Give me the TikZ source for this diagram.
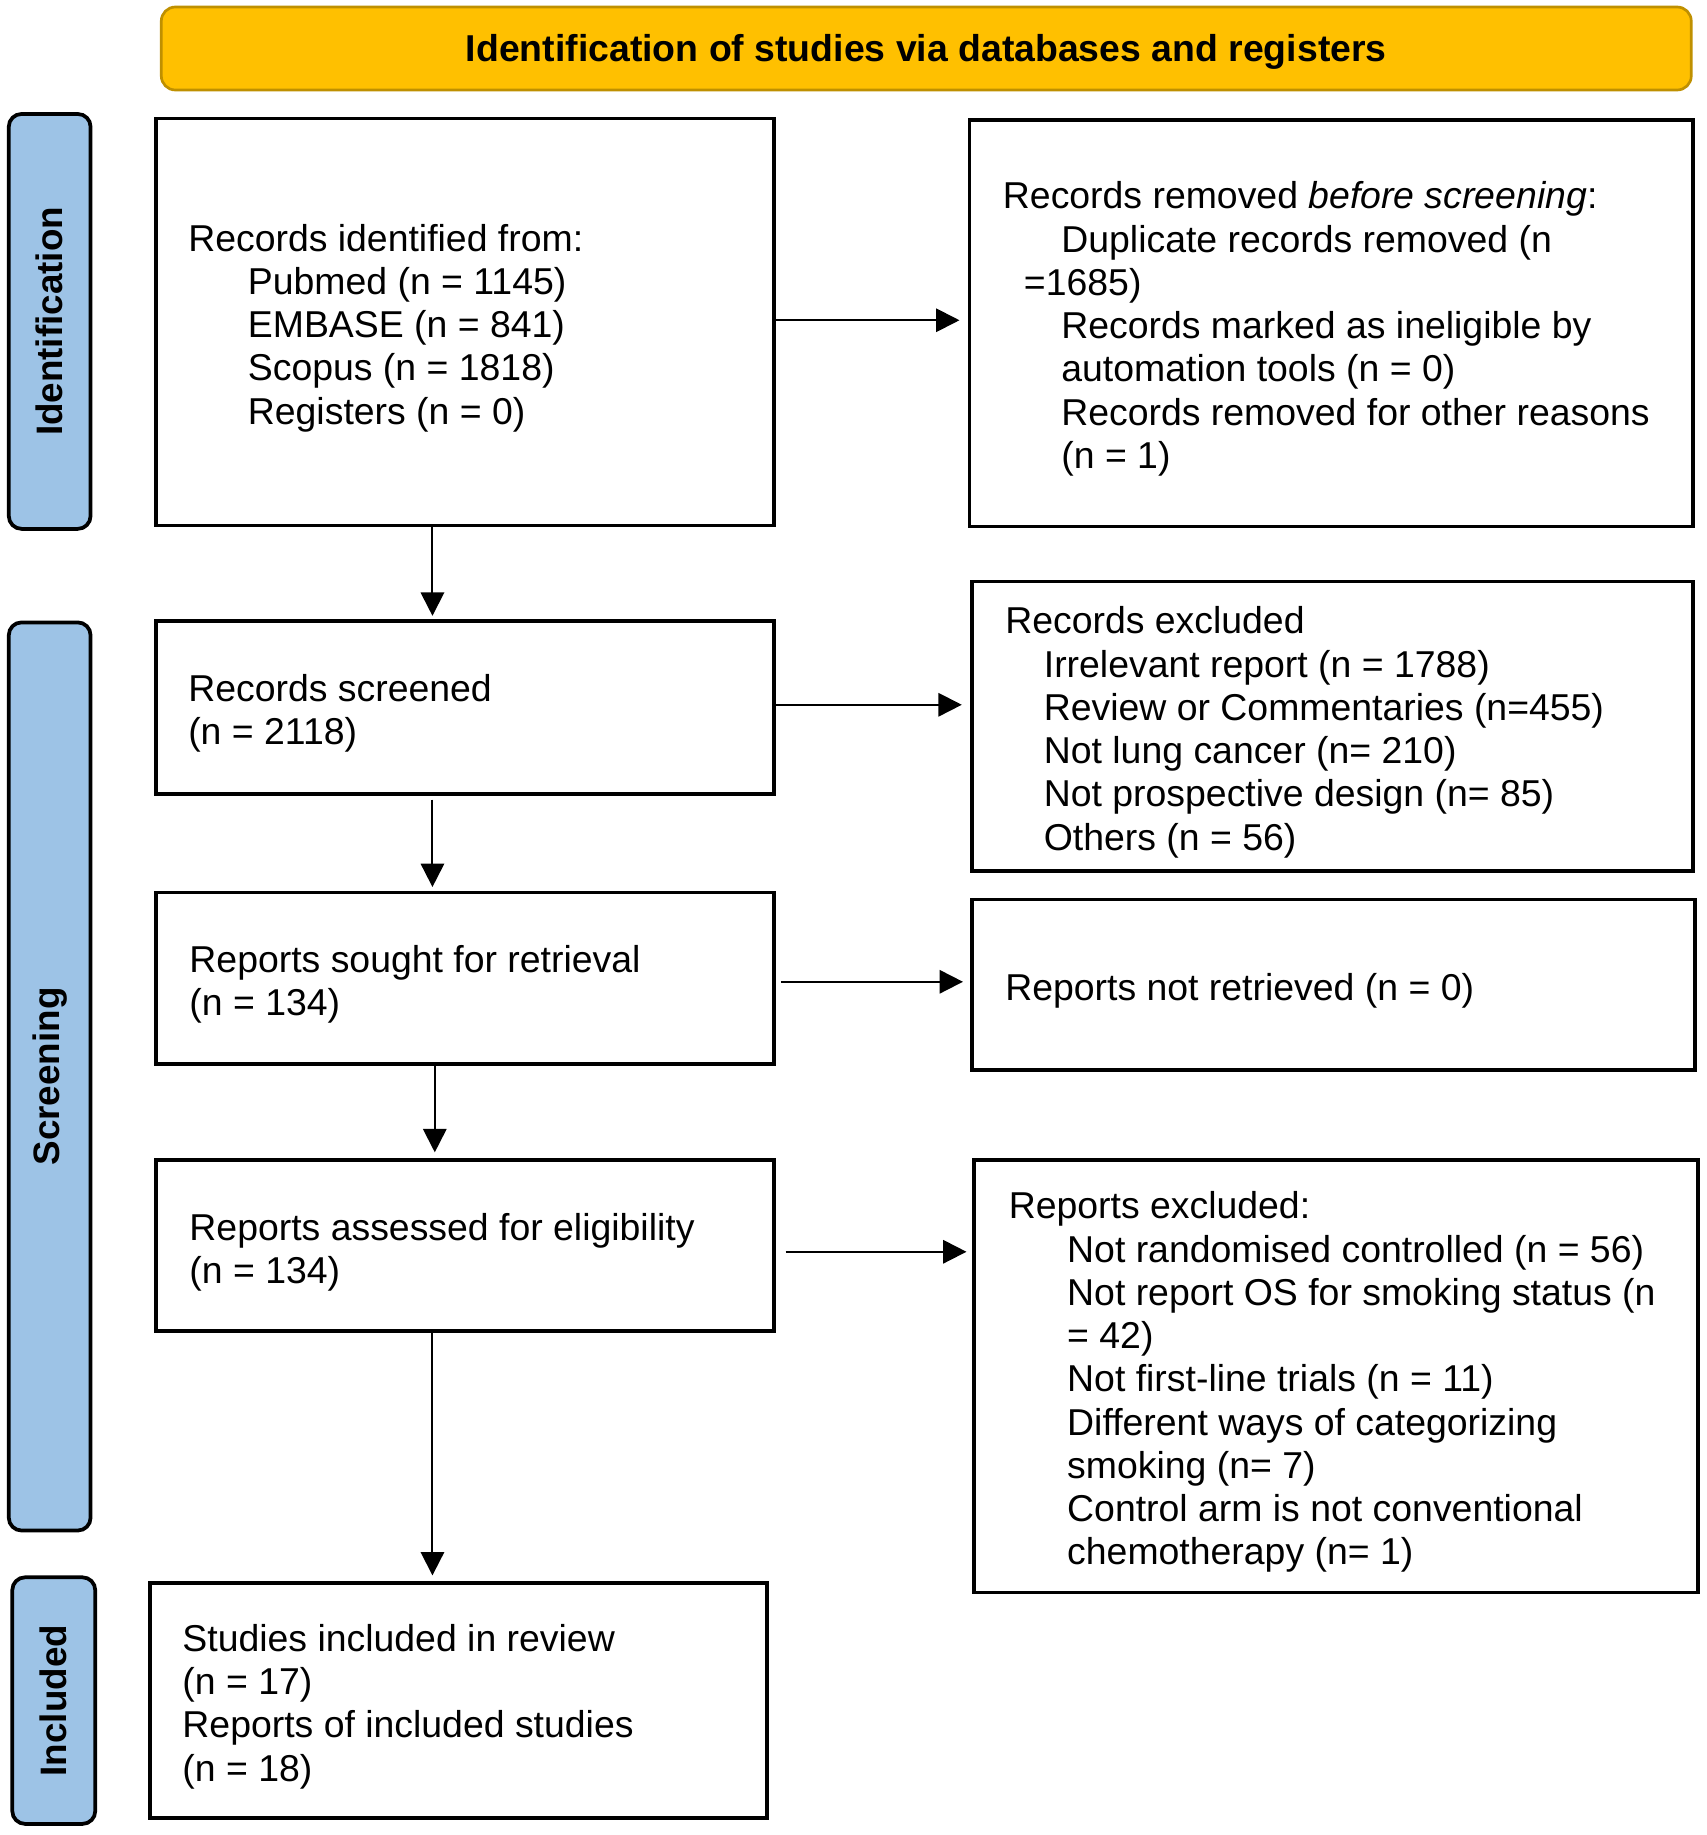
\documentclass[tikz,border=0pt]{standalone}
\usepackage{fontspec}
\setmainfont{Liberation Sans}
\usetikzlibrary{arrows.meta}
\definecolor{hdrfill}{HTML}{FFC000}
\definecolor{hdrdraw}{HTML}{BF9000}
\definecolor{sidefill}{HTML}{9DC3E6}
\begin{document}
\begin{tikzpicture}[x=1pt,y=-1pt,
  box/.style={draw, line width=3.2pt, rectangle, inner sep=0pt},
  txt/.style={anchor=west, align=left, inner sep=0pt, font=\fontsize{32}{37}\selectfont},
  side/.style={draw, line width=3.2pt, fill=sidefill, rounded corners=11pt, rotate=90, inner sep=0pt, font=\fontsize{31.5}{37}\selectfont\bfseries},
  arr/.style={line width=1.7pt, -{Triangle[length=20pt,width=20pt]}},
]
\useasboundingbox (0,0) rectangle (1460,1570);

% header
\node[draw=hdrdraw, fill=hdrfill, line width=2.3pt, rounded corners=12pt,
      minimum width=1309pt, minimum height=71pt,
      font=\fontsize{32}{37}\selectfont\bfseries] (hdr) at (792.5,41.5) {};
\node[font=\fontsize{32}{37}\selectfont\bfseries, inner sep=0pt] (hdrt) at ([yshift=-3pt]hdr.center)
      {Identification of studies via databases and registers};

% side labels
\node[side, minimum width=355pt, minimum height=70pt] (sid) at (42.5,275) {Identification};
\node[side, minimum width=777pt, minimum height=70pt] (ssc) at (42.5,921) {Screening};
\node[side, minimum width=211pt, minimum height=71pt] (sin) at (46,1455) {Included};

% boxes
\node[box, minimum width=529pt, minimum height=348pt] (b1) at (398,275.5) {};
\node[box, minimum width=619pt, minimum height=348pt] (b2) at (1139,276.5) {};
\node[box, minimum width=529pt, minimum height=148pt] (b3) at (398,605.5) {};
\node[box, minimum width=617pt, minimum height=248pt] (b4) at (1140,621.5) {};
\node[box, minimum width=529pt, minimum height=147pt] (b5) at (398,837) {};
\node[box, minimum width=619pt, minimum height=146pt] (b6) at (1141,842.5) {};
\node[box, minimum width=529pt, minimum height=146pt] (b7) at (398,1065.5) {};
\node[box, minimum width=619pt, minimum height=370pt] (b8) at (1143,1177.5) {};
\node[box, minimum width=528pt, minimum height=201pt] (b9) at (392.5,1455) {};

% texts
\node[txt] (t1) at ([xshift=29pt,yshift=-5pt]b1.west) {Records identified from:\\
\hspace*{51pt}Pubmed (n = 1145)\\
\hspace*{51pt}EMBASE (n = 841)\\
\hspace*{51pt}Scopus (n = 1818)\\
\hspace*{51pt}Registers (n = 0)};

\node[txt] (t2) at ([xshift=30pt,yshift=-5pt]b2.west) {Records removed \textit{before screening}:\\
\hspace*{50pt}Duplicate records removed (n\\
\hspace*{18pt}=1685)\\
\hspace*{50pt}Records marked as ineligible by\\
\hspace*{50pt}automation tools (n = 0)\\
\hspace*{50pt}Records removed for other reasons\\
\hspace*{50pt}(n = 1)};

\node[txt] (t3) at ([xshift=29pt,yshift=-5pt]b3.west) {Records screened\\(n = 2118)};

\node[txt] (t4) at ([xshift=30pt,yshift=-5pt]b4.west) {Records excluded\\
\hspace*{33pt}Irrelevant report (n = 1788)\\
\hspace*{33pt}Review or Commentaries (n=455)\\
\hspace*{33pt}Not lung cancer (n= 210)\\
\hspace*{33pt}Not prospective design (n= 85)\\
\hspace*{33pt}Others (n = 56)};

\node[txt] (t5) at ([xshift=30pt,yshift=-5pt]b5.west) {Reports sought for retrieval\\(n = 134)};

\node[txt] (t6) at ([xshift=30pt,yshift=-5pt]b6.west) {Reports not retrieved (n = 0)};

\node[txt] (t7) at ([xshift=30pt,yshift=-6pt]b7.west) {Reports assessed for eligibility\\(n = 134)};

\node[txt] (t8) at ([xshift=31pt,yshift=-5pt]b8.west) {Reports excluded:\\
\hspace*{50pt}Not randomised controlled (n = 56)\\
\hspace*{50pt}Not report OS for smoking status (n\\
\hspace*{50pt}= 42)\\
\hspace*{50pt}Not first-line trials (n = 11)\\
\hspace*{50pt}Different ways of categorizing\\
\hspace*{50pt}smoking (n= 7)\\
\hspace*{50pt}Control arm is not conventional\\
\hspace*{50pt}chemotherapy (n= 1)};

\node[txt] (t9) at ([xshift=29pt,yshift=-5pt]b9.west) {Studies included in review\\
(n = 17)\\
Reports of included studies\\
(n = 18)};

% arrow guides
\coordinate (c1) at (370,0);
\coordinate (c2) at (372,0);
\coordinate (r1) at (0,274);
\coordinate (r2) at (0,603);
\coordinate (r3) at (0,840);
\coordinate (r4) at (0,1071);

% vertical arrows
\draw[arr, shorten >=3pt] (b1.south -| c1) -- (b3.north -| c1);
\draw[arr, shorten >=3pt, shorten <=3pt] (b3.south -| c1) -- (b5.north -| c1);
\draw[arr, shorten >=5pt] (b5.south -| c2) -- (b7.north -| c2);
\draw[arr, shorten >=5pt] (b7.south -| c1) -- (b9.north -| c1);

% horizontal arrows
\draw[arr, shorten >=7pt] (b1.east |- r1) -- (b2.west |- r1);
\draw[arr, shorten >=7pt] (b3.east |- r2) -- (b4.west |- r2);
\draw[arr, shorten <=4pt, shorten >=6pt] (b5.east |- r3) -- (b6.west |- r3);
\draw[arr, shorten <=8pt, shorten >=5pt] (b7.east |- r4) -- (b8.west |- r4);
\end{tikzpicture}
\end{document}
